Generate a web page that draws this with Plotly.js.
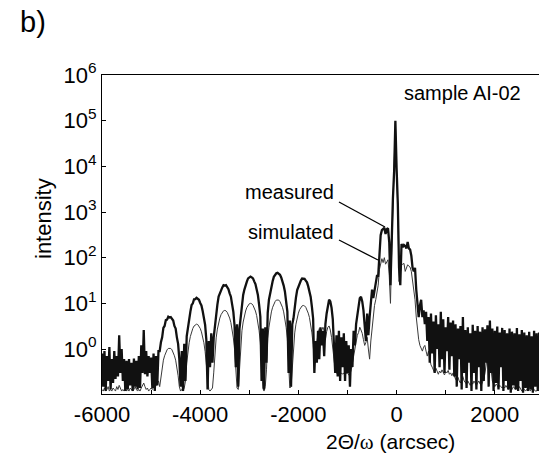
<!DOCTYPE html>
<html>
<head>
<meta charset="utf-8">
<script src="https://cdn.plot.ly/plotly-3.0.1.min.js"></script>
<style>html,body{margin:0;padding:0;background:#fff;}#chart{width:539px;height:453px;}</style>
</head>
<body>
<div id="chart"></div>
<script>
// x grid of both scans: start and step (arcsec)
const scanStart = -6000;
const scanStep = 25;

// measured intensity, one value per 25 arcsec from -6000 to 2900
const measured = [
  0.8,0.15,0.9,0.12,0.7,0.2,1.1,0.13,0.6,0.18,
  0.9,0.22,0.7,0.25,2.0,0.3,1.0,0.2,0.6,0.12,
  0.55,0.13,0.6,0.16,0.5,0.12,0.62,0.15,0.55,0.13,
  0.7,0.14,1.2,0.3,2.6,0.28,0.9,0.25,0.7,0.3,
  0.65,0.14,0.8,0.12,0.7,0.16,0.9,
  0.9,1.4,1.8,2.9,3.2,4.3,4.4,5.1,4.9,5.0,4.4,4.2,3.2,2.8,1.8,1.3,0.6,
  0.15,0.9,0.12,1.3,0.2,
  1.9,3.0,5.4,6.6,9.2,10,12.3,12.4,13.2,12.5,12,10.2,9,6.8,5.0,3.4,1.6,
  0.13,1.5,0.4,2.2,0.5,1.8,
  3.5,6.6,9.4,14,16.5,20.5,22.3,25,24.5,25,22.3,20.5,16.6,14,9.5,6.5,3.2,
  0.4,3.5,0.15,2.8,
  5.5,9.2,15.3,20,26.5,30,35.2,37,38.5,37,35.2,30.3,26.4,20,15.2,9.3,5.1,
  0.2,2.8,0.13,3.0,0.5,
  6.2,12,17.5,25.5,30.6,38,41.5,45.5,46.5,45,42.3,37,31.5,24.5,18.2,11.2,6.6,
  0.3,4.2,0.15,3.5,
  4.7,9,13.3,19.5,23.2,29,31.5,35,34.7,34.3,31.5,28.8,23.5,18.5,13.8,8.4,4.6,
  0.3,1.5,0.5,2.5,0.6,3,1.2,2.5,0.7,3.5,
  6,9,12,11,8,4.5,1.5,0.3,2.0,0.25,
  2.5,0.2,1.8,0.4,2.2,0.2,1.5,0.3,1.2,0.15,
  1.0,0.4,2.5,1.2,3.5,6,9,13,14,11,
  7,3,1.5,6,2,5,12,20,13,18,
  28,
  40,40,90,310,400,430,450,330,420,440,220,25,300,2000,8000,100000,
  9000,1500,60,25,200,170,190,180,160,220,160,150,110,60,50,60,20,
  8,5,9,12,5,7,3.5,6.5,1.5,5,
  0.5,6,0.8,4,0.3,5.5,1.0,3.5,0.4,6.5,
  0.6,4.5,0.3,3,0.9,5,0.35,3.8,0.7,4.2,
  0.25,3.5,0.15,2.8,0.6,3.2,0.13,5,0.3,2.6,
  0.14,3.0,0.5,2.2,0.12,3.4,0.3,2.5,0.13,3.2,
  0.4,2.4,0.12,3.0,0.2,2.7,0.5,3.3,0.15,4.2,
  0.3,2.8,0.12,2.5,0.18,3.1,0.13,2.3,0.4,2.9,
  0.12,2.6,0.2,2.2,0.13,2.8,0.11,2.4,0.16,2.2,
  0.13,2.9,0.12,2.1,0.2,2.6,0.11,2.3,0.14,2.0,
  0.12,2.4,0.13,1.9,0.11,2.5,0.15,2.2,0.12,2.3
];

// simulated intensity, same grid
const simulated = [
  0.13,0.12,0.14,0.12,0.13,0.15,0.12,0.13,0.12,0.14,
  0.13,0.12,0.15,0.13,0.16,0.14,0.12,0.13,0.12,0.14,
  0.12,0.13,0.12,0.14,0.13,0.12,0.13,0.15,0.13,0.12,
  0.13,0.12,0.14,0.16,0.18,0.15,0.13,0.14,0.12,0.13,
  0.14,0.13,0.15,0.14,0.16,0.18,0.2,
  0.15,0.26,0.41,0.57,0.71,0.85,0.96,1.03,1.05,1.03,0.96,0.85,0.71,0.57,0.41,0.26,0.15,
  0.12,0.13,0.12,0.14,0.2,
  0.49,0.88,1.37,1.89,2.38,2.83,3.19,3.43,3.5,3.43,3.19,2.83,2.38,1.89,1.37,0.88,0.49,
  0.2,0.13,0.12,0.13,0.14,0.3,
  0.98,1.75,2.73,3.78,4.76,5.67,6.37,6.86,7,6.86,6.37,5.67,4.76,3.78,2.73,1.75,0.98,
  0.3,0.14,0.13,0.35,
  1.4,2.5,3.9,5.4,6.8,8.1,9.1,9.8,10,9.8,9.1,8.1,6.8,5.4,3.9,2.5,1.4,
  0.3,0.14,0.12,0.15,0.35,
  1.7,3.0,4.7,6.5,8.2,9.7,10.9,11.8,12,11.8,10.9,9.7,8.2,6.5,4.7,3.0,1.7,
  0.35,0.14,0.15,0.4,
  1.26,2.25,3.5,4.9,6.1,7.3,8.2,8.8,9,8.8,8.2,7.3,6.1,4.9,3.5,2.25,1.26,
  0.55,0.8,1.5,2.2,2.8,2.2,2.6,3.0,2.5,1.6,
  2.4,3.0,3.2,2.6,1.8,1.0,0.5,0.35,0.3,0.28,
  0.3,0.27,0.3,0.28,0.3,0.27,0.29,0.3,0.27,0.28,
  0.35,0.5,0.68,1.0,1.5,2.0,2.3,3.0,2.6,2.2,
  1.6,1.2,1.4,1.8,1.0,0.6,1.5,3,6,9,
  12,
  16,25,55,80,95,78,100,72,85,90,40,10,150,1500,6000,90000,
  7000,1200,30,45,70,72,75,50,60,70,65,62,50,30,20,12,5,
  2.5,1.6,1.2,1.0,0.9,1.1,1.2,0.9,0.7,0.9,
  0.6,0.45,0.4,0.35,0.3,0.38,0.32,0.28,0.33,0.3,
  0.35,0.3,0.27,0.32,0.3,0.34,0.28,0.3,0.26,0.3,
  0.25,0.22,0.2,0.24,0.2,0.18,0.22,0.25,0.2,0.18,
  0.17,0.2,0.18,0.16,0.19,0.17,0.2,0.18,0.16,0.18,
  0.2,0.17,0.16,0.19,0.22,0.3,0.5,0.8,1.1,0.6,
  0.3,0.2,0.17,0.15,0.17,0.16,0.14,0.16,0.15,0.14,
  0.15,0.14,0.16,0.14,0.13,0.15,0.14,0.13,0.15,0.14,
  0.13,0.14,0.13,0.15,0.13,0.12,0.14,0.13,0.12,0.13,
  0.12,0.13,0.12,0.14,0.12,0.13,0.12,0.12,0.13,0.12
];

const xTickVals = [-6000,-4000,-2000,0,2000];
const xTickText = ['-6000','-4000','-2000','0','2000'];
const yTickVals = [1,10,100,1000,10000,100000,1000000];
const yTickText = ['10<sup>0</sup>','10<sup>1</sup>','10<sup>2</sup>','10<sup>3</sup>','10<sup>4</sup>','10<sup>5</sup>','10<sup>6</sup>'];

const FONT = 'Liberation Sans, Arial, Helvetica, sans-serif';
const W = 539, H = 453, ML = 102, MT = 75, MB = 59, MR = 0;
const pw = W - ML - MR, ph = H - MT - MB;
const px = v => (v - ML) / pw;
const py = v => (H - MB - v) / ph;

const traces = [
  {type:'scatter', mode:'lines', name:'simulated', x0:scanStart, dx:scanStep, y:simulated,
   line:{color:'#3a3a3a', width:1}},
  {type:'scatter', mode:'lines', name:'measured', x0:scanStart, dx:scanStep, y:measured,
   line:{color:'#111', width:2.3}}
];

const layout = {
  width:W, height:H, showlegend:false,
  margin:{l:ML, r:MR, t:MT, b:MB, pad:0},
  paper_bgcolor:'#fff', plot_bgcolor:'#fff',
  font:{family:FONT, size:22, color:'#000'},
  xaxis:{range:[-6000,2900], tickmode:'array', tickvals:xTickVals, ticktext:xTickText,
    ticks:'inside', ticklen:4, tickwidth:1.2, tickcolor:'#000',
    minor:{dtick:1000, tick0:0, ticks:'inside', ticklen:4, tickwidth:1.2, tickcolor:'#000', showgrid:false},
    showline:true, linecolor:'#000', linewidth:1.3, mirror:true,
    showgrid:false, zeroline:false, tickfont:{family:FONT, size:22, color:'#000'}},
  yaxis:{type:'log', range:[-0.985, 6], tickmode:'array', tickvals:yTickVals, ticktext:yTickText,
    ticks:'inside', ticklen:4, tickwidth:1.2, tickcolor:'#000',
    showline:true, linecolor:'#000', linewidth:1.3, mirror:false,
    showgrid:false, zeroline:false, tickfont:{family:FONT, size:22, color:'#000'}},
  annotations:[
    {xref:'paper', yref:'paper', x:px(33), y:py(22), text:'b)', showarrow:false,
     font:{family:FONT, size:29, color:'#000'}, xanchor:'center', yanchor:'middle'},
    {xref:'paper', yref:'paper', x:px(43), y:py(218), text:'intensity', textangle:-90,
     showarrow:false, font:{family:FONT, size:22, color:'#000'}, xanchor:'center', yanchor:'middle'},
    {xref:'paper', yref:'paper', x:px(390), y:py(442),
     text:'2\u0398/<span style="font-family:Liberation Serif, Times New Roman, serif">\u03c9</span> (arcsec)',
     showarrow:false, font:{family:FONT, size:21, color:'#000'}, xanchor:'center', yanchor:'middle'},
    {xref:'paper', yref:'paper', x:px(462), y:py(93), text:'sample AI-02', showarrow:false,
     font:{family:FONT, size:20, color:'#000'}, xanchor:'center', yanchor:'middle'},
    {xref:'paper', yref:'paper', x:px(336), y:py(192), text:'measured', showarrow:false,
     font:{family:FONT, size:20, color:'#000'}, xanchor:'right', yanchor:'middle'},
    {xref:'paper', yref:'paper', x:px(336), y:py(232), text:'simulated', showarrow:false,
     font:{family:FONT, size:20, color:'#000'}, xanchor:'right', yanchor:'middle'}
  ],
  shapes:[
    {type:'line', xref:'paper', yref:'paper', x0:px(339), y0:py(202), x1:px(385), y1:py(227),
     line:{color:'#000', width:1.3}},
    {type:'line', xref:'paper', yref:'paper', x0:px(339), y0:py(240), x1:px(378), y1:py(260),
     line:{color:'#000', width:1.3}}
  ]
};

Plotly.newPlot('chart', traces, layout, {displayModeBar:false});
</script>
</body>
</html>
